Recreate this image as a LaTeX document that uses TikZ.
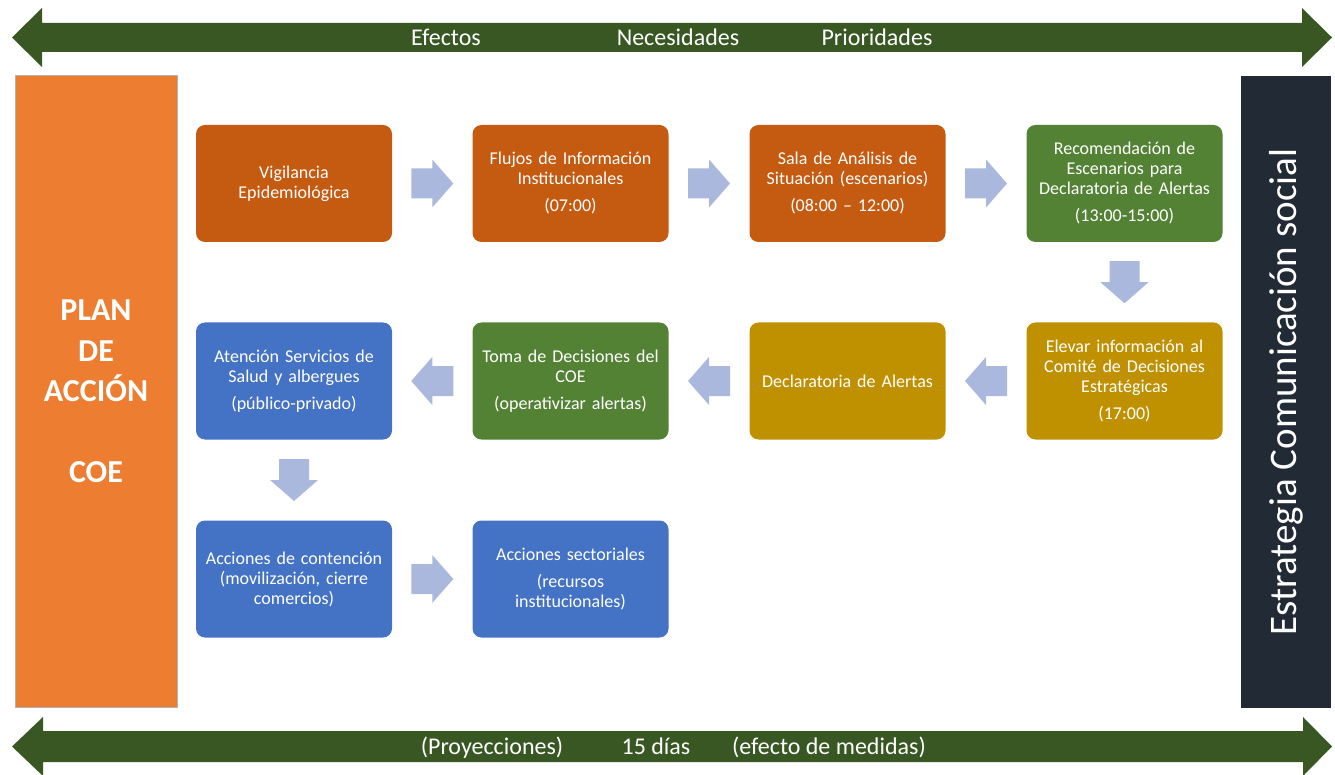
\documentclass[tikz,border=0pt]{standalone}
\usepackage{fontspec}
\setmainfont{Carlito}
\usetikzlibrary{calc}
\definecolor{bigorange}{HTML}{ED7D31}
\definecolor{darkbox}{HTML}{222A35}
\definecolor{boxorange}{HTML}{C55A11}
\definecolor{boxgreen}{HTML}{548235}
\definecolor{boxgold}{HTML}{BF9000}
\definecolor{boxblue}{HTML}{4472C4}
\definecolor{arrowgreen}{HTML}{385723}
\definecolor{lightarrow}{HTML}{A9B8DC}
\begin{document}
\begin{tikzpicture}[x=1pt,y=-1pt,
  box/.style={rounded corners=9pt, minimum width=196pt, minimum height=117pt, text width=190pt, inner sep=3pt, align=center, text=white, font=\fontsize{18}{20}\selectfont},
  obox/.style={box, fill=boxorange},
  gbox/.style={box, fill=boxgreen},
  ybox/.style={box, fill=boxgold},
  bbox/.style={box, fill=boxblue},
  bartext/.style={text=white, font=\fontsize{24}{28}\selectfont, inner sep=0pt, anchor=base},
  barrow/.pic={\fill[lightarrow] (-21,-15) -- (0,-15) -- (0,-24) -- (21,0) -- (0,24) -- (0,15) -- (-21,15) -- cycle;}
]
\useasboundingbox (0,0) rectangle (1335,775);
% top and bottom double arrows
\fill[arrowgreen] (12,37.5) -- (42,8) -- (42,23) -- (1302,23) -- (1302,8) -- (1332,37.5) -- (1302,67) -- (1302,52) -- (42,52) -- (42,67) -- cycle;
\fill[arrowgreen] (12,746.5) -- (43,717) -- (43,731) -- (1303,731) -- (1303,717) -- (1332,746.5) -- (1303,776) -- (1303,762) -- (43,762) -- (43,776) -- cycle;
\node[bartext] (t1) at (446,46) {Efectos};
\node[bartext] (t2) at (678,46) {Necesidades};
\node[bartext] (t3) at (877,46) {Prioridades};
\node[bartext] (b1) at (492,754) {(Proyecciones)};
\node[bartext] (b2) at (656,754) {15 días};
\node[bartext] (b3) at (829,754) {(efecto de medidas)};
% side panels
\node[draw=gray!60, line width=0.6pt, fill=bigorange, minimum width=162pt, minimum height=632pt, inner sep=0pt, text=white, align=center, font=\bfseries\fontsize{32}{40.5}\selectfont] (plan) at (96,391) {PLAN\\DE\\ACCIÓN\\[40pt]COE};
\node[fill=darkbox, rotate=90, minimum width=632pt, minimum height=90pt, inner sep=0pt, text=white, font=\fontsize{39}{41}\selectfont] (estr) at (1286,392) {Estrategia Comunicación social};
% boxes
\node[obox] (vig) at (294,183.5) {Vigilancia\\Epidemiológica};
\node[obox] (flu) at (570.5,183.5) {Flujos de Información\\Institucionales\\[7pt](07:00)};
\node[obox] (sala) at (847.5,183.5) {Sala de Análisis de\\Situación (escenarios)\\[7pt](08:00 – 12:00)};
\node[gbox] (rec) at (1124.5,183.5) {Recomendación de\\Escenarios para\\Declaratoria de Alertas\\[7pt](13:00-15:00)};
\node[ybox] (elev) at (1124.5,381) {Elevar información al\\Comité de Decisiones\\Estratégicas\\[7pt](17:00)};
\node[ybox] (decl) at (847.5,381) {Declaratoria de Alertas};
\node[gbox] (toma) at (570.5,381) {Toma de Decisiones del\\COE\\[7pt](operativizar alertas)};
\node[bbox] (aten) at (294,381) {Atención Servicios de\\Salud y albergues\\[7pt](público-privado)};
\node[bbox] (acc) at (294,579) {Acciones de contención\\(movilización, cierre\\comercios)};
\node[bbox] (sect) at (570.5,579) {Acciones sectoriales\\[7pt](recursos\\institucionales)};
% block arrows
\pic at ($(vig.east)!0.5!(flu.west)$) {barrow};
\pic at ($(flu.east)!0.5!(sala.west)$) {barrow};
\pic at ($(sala.east)!0.5!(rec.west)$) {barrow};
\pic[rotate=-90] at ($(rec.south)!0.5!(elev.north)$) {barrow};
\pic[rotate=180] at ($(elev.west)!0.5!(decl.east)$) {barrow};
\pic[rotate=180] at ($(decl.west)!0.5!(toma.east)$) {barrow};
\pic[rotate=180] at ($(toma.west)!0.5!(aten.east)$) {barrow};
\pic[rotate=-90] at ($(aten.south)!0.5!(acc.north)$) {barrow};
\pic at ($(acc.east)!0.5!(sect.west)$) {barrow};
\end{tikzpicture}
\end{document}
